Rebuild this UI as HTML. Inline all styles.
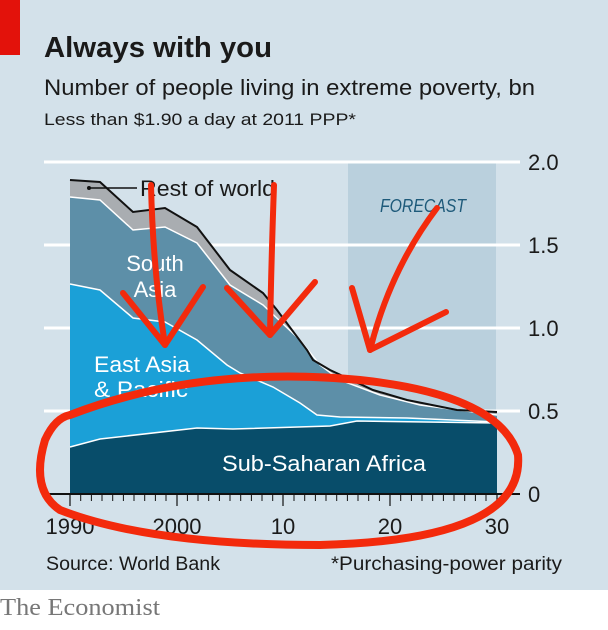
<!DOCTYPE html><html><head><style>
body{margin:0;width:608px;height:625px;overflow:hidden;background:#fff;font-family:"Liberation Sans",sans-serif}
</style></head><body>
<svg width="608" height="625" xmlns="http://www.w3.org/2000/svg" font-family="Liberation Sans, sans-serif">
<rect x="0" y="0" width="608" height="590" fill="#d3e1ea"/>
<rect x="0" y="0" width="20" height="55" fill="#e3120b"/>
<text x="44" y="57" font-size="29" font-weight="bold" fill="#1a1a1a" textLength="228" lengthAdjust="spacingAndGlyphs">Always with you</text>
<text x="44" y="95" font-size="22" fill="#1a1a1a" textLength="491" lengthAdjust="spacingAndGlyphs">Number of people living in extreme poverty, bn</text>
<text x="44" y="125" font-size="17" fill="#1a1a1a" textLength="312" lengthAdjust="spacingAndGlyphs">Less than $1.90 a day at 2011 PPP*</text>
<rect x="348" y="163" width="148" height="331" fill="#bad0dd"/>
<g stroke="#fff" stroke-width="3">
<line x1="44" y1="162" x2="520" y2="162"/><line x1="44" y1="245" x2="520" y2="245"/>
<line x1="44" y1="328" x2="520" y2="328"/><line x1="44" y1="411" x2="520" y2="411"/>
</g>
<text x="380" y="212" font-size="18" font-style="italic" fill="#1e5a7a" textLength="86" lengthAdjust="spacingAndGlyphs">FORECAST</text>
<polygon fill="#a9adb1" points="70,180 100,182 133,212 165,208 197,227 230,270 263,293 277,310 307,350 313,360 330,370 373,390 407,400 457,410 497,412 497,494 70,494"/>
<polygon fill="#5d8fa8" points="70,197 100,200 133,230 165,227 197,243 230,285 263,305 300,340 320,365 340,380 380,395 420,405 497,415 497,494 70,494"/>
<polygon fill="#1ba0d7" points="70,284 100,290 133,318 165,322 197,340 227,365 240,373 273,387 300,403 317,415 340,417 407,418 497,422 497,494 70,494"/>
<polygon fill="#084d6a" points="70,447 100,439 197,428 233,429 330,426 357,421 497,423 497,494 70,494"/>
<g fill="none" stroke="#fff" stroke-width="1.5">
<polyline points="70,197 100,200 133,230 165,227 197,243 230,285 263,305 300,340 320,365 340,380 380,395 420,405 497,415"/>
<polyline points="70,284 100,290 133,318 165,322 197,340 227,365 240,373 273,387 300,403 317,415 340,417 407,418 497,422"/>
<polyline points="70,447 100,439 197,428 233,429 330,426 357,421 497,423"/>
</g>
<polyline fill="none" stroke="#111" stroke-width="2" points="70,180 100,182 133,212 165,208 197,227 230,270 263,293 277,310 307,350 313,360 330,370 373,390 407,400 457,410 497,412"/>
<line x1="89" y1="188" x2="137" y2="188" stroke="#111" stroke-width="1.5"/><circle cx="89" cy="188" r="2" fill="#111"/>
<text x="140" y="196" font-size="22" fill="#1a1a1a" textLength="135" lengthAdjust="spacingAndGlyphs">Rest of world</text>
<text x="155" y="271" font-size="22" fill="#fff" text-anchor="middle">South</text>
<text x="155" y="297" font-size="22" fill="#fff" text-anchor="middle">Asia</text>
<text x="94" y="372" font-size="22" fill="#fff" textLength="96" lengthAdjust="spacingAndGlyphs">East Asia</text>
<text x="94" y="397" font-size="22" fill="#fff" textLength="94" lengthAdjust="spacingAndGlyphs">&amp; Pacific</text>
<text x="222" y="471" font-size="22" fill="#fff" textLength="204" lengthAdjust="spacingAndGlyphs">Sub-Saharan Africa</text>
<line x1="44" y1="494" x2="520" y2="494" stroke="#111" stroke-width="2"/>
<g stroke="#111" stroke-width="1.2">
<line x1="70" y1="494" x2="70" y2="506"/><line x1="177" y1="494" x2="177" y2="506"/><line x1="283" y1="494" x2="283" y2="506"/><line x1="390" y1="494" x2="390" y2="506"/><line x1="497" y1="494" x2="497" y2="506"/>
</g>
<path stroke="#111" stroke-width="1" d="M80.7 494v7M91.4 494v7M102 494v7M112.7 494v7M123.4 494v7M134 494v7M144.7 494v7M155.4 494v7M166 494v7M187.4 494v7M198 494v7M208.7 494v7M219.4 494v7M230 494v7M240.7 494v7M251.4 494v7M262 494v7M272.7 494v7M294 494v7M304.7 494v7M315.4 494v7M326 494v7M336.7 494v7M347.4 494v7M358 494v7M368.7 494v7M379.4 494v7M400.7 494v7M411.4 494v7M422 494v7M432.7 494v7M443.4 494v7M454 494v7M464.7 494v7M475.4 494v7M486 494v7"/>
<g font-size="22" fill="#1a1a1a">
<text x="528" y="170">2.0</text><text x="528" y="253">1.5</text><text x="528" y="336">1.0</text><text x="528" y="419">0.5</text><text x="528" y="502">0</text>
<text x="70" y="534" text-anchor="middle">1990</text><text x="177" y="534" text-anchor="middle">2000</text><text x="283" y="534" text-anchor="middle">10</text><text x="390" y="534" text-anchor="middle">20</text><text x="497" y="534" text-anchor="middle">30</text>
</g>
<text x="46" y="570" font-size="19" fill="#1a1a1a" textLength="174" lengthAdjust="spacingAndGlyphs">Source: World Bank</text>
<text x="331" y="570" font-size="19" fill="#1a1a1a" textLength="231" lengthAdjust="spacingAndGlyphs">*Purchasing-power parity</text>
<text x="0" y="615" font-size="24" fill="#777" font-family="Liberation Serif, serif" textLength="160" lengthAdjust="spacingAndGlyphs">The Economist</text>
<g fill="none" stroke="#f32a0c" stroke-width="6" stroke-linecap="round" stroke-linejoin="round">
<path d="M151 185 Q153 270 165 345"/><path d="M123 293 L165 345 L203 287"/>
<path d="M274 185 Q271 270 270 335"/><path d="M227 288 L270 335 L315 282"/>
<path d="M437 208 Q390 270 370 350"/><path d="M352 288 L370 350 L446 312"/>
</g>
<path fill="none" stroke="#f32a0c" stroke-width="8" stroke-linecap="round" d="M70 415 Q200 365 360 380 Q500 395 518 455 Q525 540 320 545 Q150 545 60 510 Q30 490 45 440 Q55 418 70 415"/>
</svg>
</body></html>
